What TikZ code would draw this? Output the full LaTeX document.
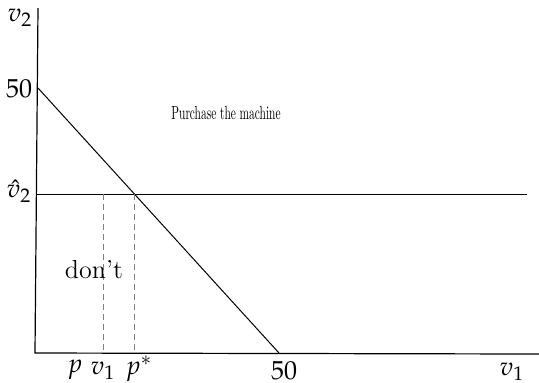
\documentclass[tikz,border=0pt]{standalone}
\usepackage{amsmath}
\usepackage{mathpazo}
\usepackage{tikz}
\usetikzlibrary{positioning}

\begin{document}
\begin{tikzpicture}[x=0.5pt, y=-0.5pt, font=\fontsize{13}{15}\selectfont,
    lbl/.style={inner sep=0pt},
    guide/.style={densely dashed, gray, line width=0.3pt}]
    \useasboundingbox (0,0) rectangle (539,382);

    % 坐标系
    \coordinate (top) at (38,8);
    \coordinate (origin) at (35,353);
    \coordinate (right) at (539,354);
    \draw[line width=0.6pt] (top) -- (origin) -- (right);

    % 预算线与阈值线
    \coordinate (a) at (38,88);
    \coordinate (b) at (279,353);
    \coordinate (h0) at (37,194);
    \coordinate (h1) at (527,194);
    \draw[line width=0.5pt] (a) -- (b);
    \draw[line width=0.5pt] (h0) -- (h1);

    % 虚线
    \coordinate (q1) at (103,194);
    \coordinate (q1b) at (103,353);
    \coordinate (q2) at (134.5,194);
    \coordinate (q2b) at (134.5,353);
    \draw[guide] (q1) -- (q1b);
    \draw[guide] (q2) -- (q2b);

    % 坐标轴标注
    \node[lbl] (ylab) at (20,18) {$v_2$};
    \node[lbl] (yfifty) at (19,89) {$50$};
    \node[lbl] (yhat) at (19,191) {$\hat{v}_2$};
    \node[lbl] (xp) at (75,370) {$p$};
    \node[lbl] (xv) at (103,371) {$v_1$};
    \node[lbl] (xpstar) at (139,369) {$p^*$};
    \node[lbl] (xfifty) at (284,371) {$50$};
    \node[lbl] (xlab) at (512,372) {$v_1$};

    % 区域标注
    \node[lbl] (dont) at (94,270) {don't};
    \node[lbl, font=\fontsize{9.5}{11}\selectfont, xscale=0.6] (buy) at (226,113) {Purchase the machine};
\end{tikzpicture}
\end{document}
